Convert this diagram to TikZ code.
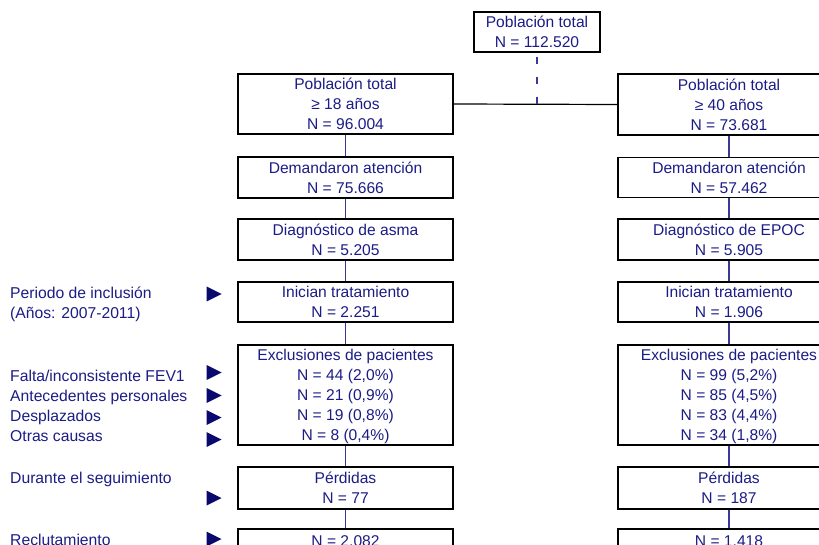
\documentclass[tikz,border=0pt]{standalone}
\usepackage{fontspec}
\setmainfont{Liberation Sans}
\definecolor{txt}{HTML}{1C1C86}
\definecolor{tri}{HTML}{0A0A6E}
\definecolor{conn}{HTML}{3A3A96}
\newcommand{\ls}{\rule[-4.4pt]{0pt}{20pt}}
\tikzset{
  box/.style={draw=black, line width=1.2pt, inner sep=0pt, align=center,
    text=txt, font=\fontsize{15.6}{20}\selectfont, fill=white},
  lbl/.style={anchor=base west, inner sep=0pt, text=txt,
    font=\fontsize{15.7}{20}\selectfont},
  conline/.style={draw=conn, line width=1.5pt},
}
\begin{document}
\begin{tikzpicture}[x=1pt,y=-1pt]
\clip (0,0) rectangle (819,545);
\fill[white] (0,0) rectangle (819,545);

% top box
\node[box, minimum width=126pt, minimum height=40pt] (top) at (537,32)
  {\ls Población total\\\ls N = 112.520};

% left column
\node[box, minimum width=215pt, minimum height=60pt] (l1) at (345.5,104)
  {\ls Población total\\\ls ≥ 18 años\\\ls N = 96.004};
\node[box, minimum width=215pt, minimum height=41pt] (l2) at (345.5,177.5)
  {\ls Demandaron atención\\\ls N = 75.666};
\node[box, minimum width=215pt, minimum height=41pt] (l3) at (345.5,239.5)
  {\ls Diagnóstico de asma\\\ls N = 5.205};
\node[box, minimum width=215pt, minimum height=40pt] (l4) at (345.5,302)
  {\ls Inician tratamiento\\\ls N = 2.251};
\node[box, minimum width=215pt, minimum height=100pt] (l5) at (345.5,395)
  {\ls Exclusiones de pacientes\\\ls N = 44 (2,0\%)\\\ls N = 21 (0,9\%)\\\ls N = 19 (0,8\%)\\\ls N = 8 (0,4\%)};
\node[box, minimum width=215pt, minimum height=42pt] (l6) at (345.5,488)
  {\ls Pérdidas\\\ls N = 77};
\node[box, minimum width=215pt, minimum height=24pt] (l7) at (345.5,541)
  {\ls N = 2.082};

% right column
\node[box, minimum width=222pt, minimum height=61pt] (r1) at (729,104.5)
  {\ls Población total\\\ls ≥ 40 años\\\ls N = 73.681};
\node[box, minimum width=222pt, minimum height=40pt] (r2) at (729,177.5)
  {\ls Demandaron atención\\\ls N = 57.462};
\node[box, minimum width=222pt, minimum height=41pt] (r3) at (729,239.5)
  {\ls Diagnóstico de EPOC\\\ls N = 5.905};
\node[box, minimum width=222pt, minimum height=40pt] (r4) at (729,302)
  {\ls Inician tratamiento\\\ls N = 1.906};
\node[box, minimum width=222pt, minimum height=100pt] (r5) at (729,395)
  {\ls Exclusiones de pacientes\\\ls N = 99 (5,2\%)\\\ls N = 85 (4,5\%)\\\ls N = 83 (4,4\%)\\\ls N = 34 (1,8\%)};
\node[box, minimum width=222pt, minimum height=42pt] (r6) at (729,488)
  {\ls Pérdidas\\\ls N = 187};
\node[box, minimum width=222pt, minimum height=24pt] (r7) at (729,541)
  {\ls N = 1.418};

% connectors
\coordinate (split) at (537,104.5);
\draw[black, line width=1.2pt] (l1.east) -- (r1.west);
\draw[conline, dash pattern=on 7pt off 13pt, dash phase=-4pt] (top.south) -- (split);
\foreach \a/\b in {l1/l2,l2/l3,l3/l4,l4/l5,l5/l6,l6/l7,r1/r2,r2/r3,r3/r4,r4/r5,r5/r6,r6/r7}
  \draw[conline] (\a.south) -- (\b.north);

% left labels
\node[lbl] (p1) at (10,298.6) {Periodo de inclusión};
\node[lbl] (p2) at (10,318.6) {(Años: 2007-2011)};
\node[lbl] (e1) at (10,381.6) {Falta/inconsistente FEV1};
\node[lbl] (e2) at (10,401.6) {Antecedentes personales};
\node[lbl] (e3) at (10,421.3) {Desplazados};
\node[lbl] (e4) at (10,441.3) {Otras causas};
\node[lbl] (s1) at (10,483.3) {Durante el seguimiento};
\node[lbl] (rc) at (10,545.6) {Reclutamiento};

% markers
\foreach \y in {294,372.5,395.5,417.5,439.5,498,539}
  \fill[tri] (206.5,\y-7.5) -- (221.5,\y) -- (206.5,\y+7.5) -- cycle;
\end{tikzpicture}
\end{document}
